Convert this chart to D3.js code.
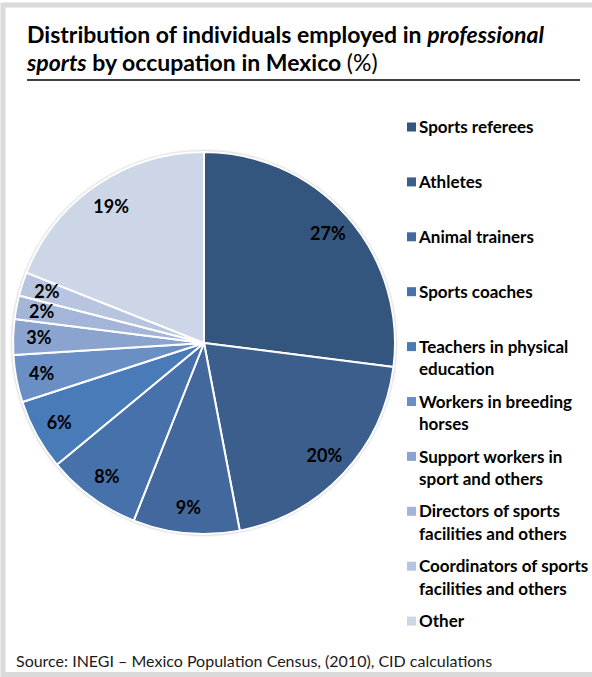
<!DOCTYPE html>
<html>
<head>
<meta charset="utf-8">
<script src="https://cdn.jsdelivr.net/npm/d3@7/dist/d3.min.js"></script>
<style>
  html, body { margin: 0; padding: 0; background: #fff; }
  svg { display: block; font-family: Lato, "Open Sans", sans-serif; }
</style>
</head>
<body>
<svg id="chart" width="592" height="677"></svg>
<script>
// Occupation categories (clockwise from 12 o'clock) and their shares, %
const categories = [
  "Sports referees",
  "Athletes",
  "Animal trainers",
  "Sports coaches",
  "Teachers in physical education",
  "Workers in breeding horses",
  "Support workers in sport and others",
  "Directors of sports facilities and others",
  "Coordinators of sports facilities and others",
  "Other"
];
const shares = [27, 20, 9, 8, 6, 4, 3, 2, 2, 19];
// Legend text, broken into lines as shown
const legendLines = [
  ["Sports referees"],
  ["Athletes"],
  ["Animal trainers"],
  ["Sports coaches"],
  ["Teachers in physical", "education"],
  ["Workers in breeding", "horses"],
  ["Support workers in", "sport and others"],
  ["Directors of sports", "facilities and others"],
  ["Coordinators of sports", "facilities and others"],
  ["Other"]
];
const palette = [
  "#34567e", "#3b5e8c", "#42689e", "#4671aa", "#4a7bb9",
  "#6a8fc4", "#8aa4cf", "#a3b6da", "#b7c5e1", "#cdd6e7"
];

const svg = d3.select("#chart");

// Frame
svg.append("rect")
  .attr("x", 3).attr("y", 5)
  .attr("width", 600).attr("height", 669.5)
  .attr("fill", "none")
  .attr("stroke", "#dadada")
  .attr("stroke-width", 5);

// Title
const title = svg.append("text")
  .attr("x", 27).attr("y", 43)
  .attr("font-size", 23).attr("font-weight", 700).attr("fill", "#000");
title.append("tspan").text("Distribution of individuals employed in ");
title.append("tspan").attr("font-style", "italic").text("professional");
const title2 = svg.append("text")
  .attr("x", 27).attr("y", 71)
  .attr("font-size", 23).attr("font-weight", 700).attr("fill", "#000");
title2.append("tspan").attr("font-style", "italic").text("sports");
title2.append("tspan").text(" by occupation in Mexico ");
title2.append("tspan").attr("font-weight", 400).text("(%)");

svg.append("line")
  .attr("x1", 27).attr("x2", 580)
  .attr("y1", 80).attr("y2", 80)
  .attr("stroke", "#000").attr("stroke-width", 1.5);

// Pie
const cx = 204, cy = 343, R = 191;
const color = d3.scaleOrdinal().domain(categories).range(palette);
const pie = d3.pie().sort(null).value(d => d.value);
const data = categories.map((c, i) => ({ name: c, value: shares[i] }));
const arcs = pie(data);
const arc = d3.arc().innerRadius(0).outerRadius(R);
const labelArc = d3.arc().innerRadius(R * 0.865).outerRadius(R * 0.865);

const defs = svg.append("defs");
defs.append("filter").attr("id", "soft")
  .attr("x", "-10%").attr("y", "-10%").attr("width", "120%").attr("height", "120%")
  .append("feGaussianBlur").attr("stdDeviation", 1.2);

const g = svg.append("g").attr("transform", `translate(${cx},${cy})`);
g.append("circle").attr("r", R + 1.2).attr("fill", "#bfbfbf").attr("filter", "url(#soft)");

g.selectAll("path.slice")
  .data(arcs)
  .join("path")
  .attr("class", "slice")
  .attr("d", arc)
  .attr("fill", d => color(d.data.name))
  .attr("stroke", "#fff")
  .attr("stroke-width", 2)
  .attr("stroke-linejoin", "round");

g.selectAll("text.lbl")
  .data(arcs)
  .join("text")
  .attr("class", "lbl")
  .attr("transform", d => `translate(${labelArc.centroid(d)})`)
  .attr("text-anchor", "middle")
  .attr("dy", "0.35em")
  .attr("font-size", 18).attr("font-weight", 700).attr("fill", "#000")
  .text(d => d.data.value + "%");

// Legend
const legend = svg.append("g").attr("transform", "translate(407,127)");
const item = legend.selectAll("g")
  .data(categories)
  .join("g")
  .attr("transform", (d, i) => `translate(0,${i * 54.9})`);
item.append("rect")
  .attr("x", 0).attr("y", -4.5)
  .attr("width", 9).attr("height", 9)
  .attr("fill", d => color(d));
item.append("text")
  .attr("x", 12)
  .attr("font-size", 17).attr("font-weight", 700).attr("fill", "#000")
  .selectAll("tspan")
  .data((d, i) => legendLines[i])
  .join("tspan")
  .attr("x", 12)
  .attr("y", (d, j) => j * 22.5)
  .attr("dy", "0.36em")
  .text(d => d);

// Source note
svg.append("text")
  .attr("x", 16).attr("y", 667)
  .attr("font-size", 16).attr("fill", "#1a1a1a")
  .text("Source: INEGI \u2013 Mexico Population Census, (2010), CID calculations");
</script>
</body>
</html>
